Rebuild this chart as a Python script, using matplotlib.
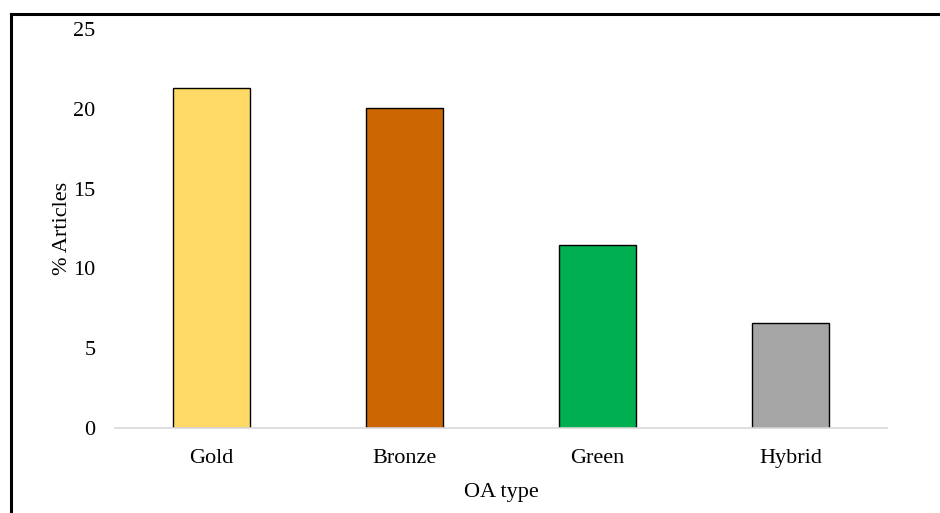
import matplotlib
matplotlib.use('Agg')
import matplotlib.pyplot as plt
from matplotlib.lines import Line2D

categories = ['Gold', 'Bronze', 'Green', 'Hybrid']
values = [21.3, 20.05, 11.47, 6.58]
colors = ['#FFD966', '#CC6600', '#00B050', '#A5A5A5']
yticks = [0, 5, 10, 15, 20, 25]

plt.rcParams['font.family'] = ['Liberation Serif', 'DejaVu Serif']

fig = plt.figure(figsize=(9.4, 5.13), dpi=100)
ax = fig.add_axes([115 / 940, 1 - 428 / 513, 772 / 940, 399 / 513])

ax.bar(range(len(categories)), values, width=0.394, color=colors,
       edgecolor='black', linewidth=1, zorder=3)

ax.set_xlim(-0.5, len(categories) - 0.5)
ax.set_ylim(0, 25)
ax.set_xticks(range(len(categories)))
ax.set_xticklabels(categories)
ax.set_yticks(yticks)
ax.tick_params(axis='both', length=0, labelsize=16)
ax.tick_params(axis='y', pad=14)
ax.tick_params(axis='x', pad=15)

for side in ['top', 'right', 'left']:
    ax.spines[side].set_visible(False)
ax.spines['bottom'].set_color('#D9D9D9')
ax.spines['bottom'].set_linewidth(1.2)
ax.spines['bottom'].set_zorder(4)

ax.set_xlabel('OA type', fontsize=16, labelpad=11)
ax.set_ylabel('% Articles', fontsize=16, labelpad=1)

# outer frame lines (top and left)
fig.add_artist(Line2D([10.5 / 940, 1], [1 - 13.5 / 513, 1 - 13.5 / 513],
                      color='black', linewidth=2.2, transform=fig.transFigure))
fig.add_artist(Line2D([10.5 / 940, 10.5 / 940], [0, 1 - 13.5 / 513],
                      color='black', linewidth=2.2, transform=fig.transFigure))

fig.savefig('out.png', dpi=100)
